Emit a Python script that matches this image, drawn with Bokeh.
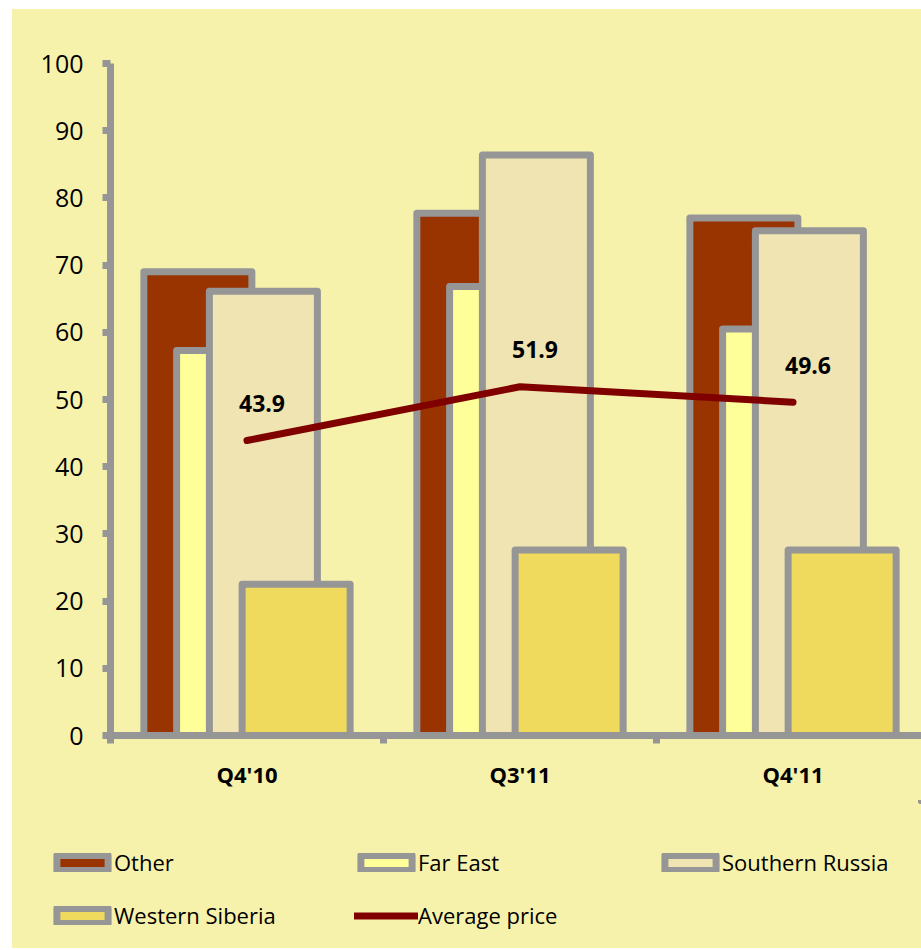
from bokeh.plotting import figure
from bokeh.layouts import column
from bokeh.models import Range1d, FixedTicker, Legend, LegendItem, ColumnDataSource
from bokeh.transform import dodge
from bokeh.core.properties import value
from bokeh.embed import file_html
from bokeh.resources import INLINE

# ---- data ----
categories = ["Q4'10", "Q3'11", "Q4'11"]
other = [69.0, 77.7, 77.0]
far_east = [57.3, 66.8, 60.5]
southern_russia = [66.1, 86.4, 75.1]
western_siberia = [22.5, 27.6, 27.6]
avg_price = [43.9, 51.9, 49.6]
y_ticks = [0, 10, 20, 30, 40, 50, 60, 70, 80, 90, 100]
legend_labels = ["Other", "Far East", "Southern Russia", "Western Siberia", "Average price"]

# ---- style ----
BG = "#F7F2AB"
GRAY = "#969696"
C_OTHER = "#993300"
C_FE = "#FFFF99"
C_SR = "#F0E4B3"
C_WS = "#F0DA5E"
C_LINE = "#800000"
FONT = "Open Sans"

x = [i + 0.5 for i in range(len(categories))]
bounds = [i for i in range(len(categories))]
src = ColumnDataSource(dict(
    x=x, other=other, far_east=far_east, southern_russia=southern_russia,
    western_siberia=western_siberia, price=avg_price,
    price_lbl=[f"{v:.1f}" for v in avg_price],
))

CAT_PX = 273.0
FRAME_W = 811
p = figure(width=909, height=791,
           x_range=Range1d(0, FRAME_W / CAT_PX), y_range=Range1d(0, 100),
           output_backend="svg", toolbar_location=None, title=None,
           min_border_left=98, min_border_right=0, min_border_top=54, min_border_bottom=65,
           background_fill_color=BG, border_fill_color=BG, outline_line_color=None)
p.frame_align = False
p.grid.visible = False

bw = 108 / CAT_PX
off1, off2 = 0.18, 0.06
bar_styles = [
    ("other", C_OTHER, -off1),
    ("far_east", C_FE, -off2),
    ("southern_russia", C_SR, off2),
    ("western_siberia", C_WS, off1),
]
for col, color, off in bar_styles:
    p.vbar(x=dodge("x", off), top=col, bottom=0, width=bw, source=src,
           fill_color=color, line_color=GRAY, line_width=7, line_join="round")
p.line(x="x", y="price", source=src, line_color=C_LINE, line_width=7,
       line_cap="round", line_join="round")
p.text(x="x", y="price", text="price_lbl", source=src, x_offset=15, y_offset=-37,
       text_align="center", text_baseline="middle", text_font=value(FONT),
       text_font_size="23px", text_font_style="bold", text_color="black")

# y axis
ya = p.yaxis[0]
ya.ticker = FixedTicker(ticks=y_ticks)
ya.axis_line_color = GRAY
ya.axis_line_width = 7
ya.major_tick_line_color = GRAY
ya.major_tick_line_width = 7
ya.major_tick_out = 8
ya.major_tick_in = 0
ya.minor_tick_out = 0
ya.minor_tick_in = 0
ya.major_label_text_font = FONT
ya.major_label_text_font_size = "25px"
ya.major_label_text_color = "black"
ya.major_label_standoff = 19

# x axis
xa = p.xaxis[0]
xa.ticker = FixedTicker(ticks=x, minor_ticks=bounds)
xa.axis_line_color = GRAY
xa.axis_line_width = 7
xa.major_tick_out = 0
xa.major_tick_in = 0
xa.major_tick_line_color = None
xa.minor_tick_out = 8
xa.minor_tick_in = 0
xa.minor_tick_line_color = GRAY
xa.minor_tick_line_width = 7
xa.major_label_overrides = {xv: c for xv, c in zip(x, categories)}
xa.major_label_text_font = FONT
xa.major_label_text_font_size = "22px"
xa.major_label_text_font_style = "bold"
xa.major_label_text_color = "black"
xa.major_label_standoff = 15

# ---- legend strip below the chart ----
# Its view range does not cover the data, so the proxy renderers only supply legend glyphs.
lp = figure(width=909, height=148,
            x_range=Range1d(-2, -1), y_range=Range1d(-2, -1),
            output_backend="svg", toolbar_location=None, title=None,
            min_border=0, background_fill_color=BG, border_fill_color=BG,
            outline_line_color=None)
lp.frame_align = False
lp.axis.visible = False
lp.grid.visible = False
lr = []
for col, color, off in bar_styles:
    lr.append(lp.vbar(x="x", top=col, width=bw, source=src, fill_color=color,
                      line_color=GRAY, line_width=7, line_join="round"))
lr.append(lp.line(x="x", y="price", source=src, line_color=C_LINE, line_width=7, line_cap="round"))

locs = [(38, 71), (342, 71), (646, 71), (38, 18), (342, 18)]
for label, r, loc in zip(legend_labels, lr, locs):
    lg = Legend(items=[LegendItem(label=label, renderers=[r])], location=loc,
                padding=0, margin=0, spacing=0, glyph_width=64, glyph_height=19,
                label_standoff=0, label_height=19,
                label_text_font=FONT, label_text_font_size="22px", label_text_color="black",
                background_fill_alpha=0, border_line_color=None)
    lp.add_layout(lg)

layout = column(p, lp, spacing=0, margin=(9, 0, 0, 12),
                styles={"background-color": BG})
open("out.html", "w").write(file_html(layout, INLINE))
